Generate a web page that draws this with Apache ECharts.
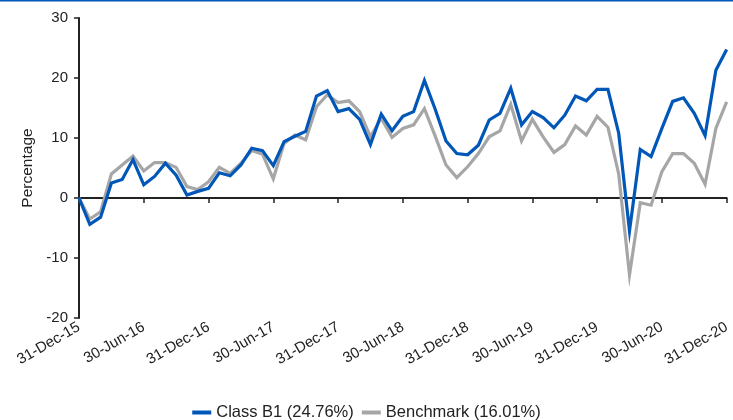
<!DOCTYPE html>
<html>
<head>
<meta charset="utf-8">
<script src="https://cdn.jsdelivr.net/npm/echarts@6/dist/echarts.min.js"></script>
<style>
html,body{margin:0;padding:0;background:#fff;}
#chart{width:733px;height:420px;}
</style>
</head>
<body>
<div id="chart"></div>
<script>
const categories = [
'31-Dec-15',
'31-Jan-16','29-Feb-16','31-Mar-16','30-Apr-16','31-May-16','30-Jun-16','31-Jul-16','31-Aug-16','30-Sep-16','31-Oct-16','30-Nov-16','31-Dec-16',
'31-Jan-17','28-Feb-17','31-Mar-17','30-Apr-17','31-May-17','30-Jun-17','31-Jul-17','31-Aug-17','30-Sep-17','31-Oct-17','30-Nov-17','31-Dec-17',
'31-Jan-18','28-Feb-18','31-Mar-18','30-Apr-18','31-May-18','30-Jun-18','31-Jul-18','31-Aug-18','30-Sep-18','31-Oct-18','30-Nov-18','31-Dec-18',
'31-Jan-19','28-Feb-19','31-Mar-19','30-Apr-19','31-May-19','30-Jun-19','31-Jul-19','31-Aug-19','30-Sep-19','31-Oct-19','30-Nov-19','31-Dec-19',
'31-Jan-20','29-Feb-20','31-Mar-20','30-Apr-20','31-May-20','30-Jun-20','31-Jul-20','31-Aug-20','30-Sep-20','31-Oct-20','30-Nov-20','31-Dec-20'
];
const classB1 = [
0, -4.4, -3.2, 2.5, 3.1, 6.4, 2.2, 3.6, 5.8, 3.8, 0.5, 1.1, 1.6,
4.2, 3.7, 5.5, 8.3, 7.9, 5.4, 9.4, 10.3, 11.1, 17.0, 17.9, 14.4,
14.9, 13.1, 8.9, 14.0, 11.2, 13.6, 14.4, 19.6, 14.8, 9.5, 7.4, 7.2,
8.8, 13.0, 14.1, 18.3, 12.2, 14.4, 13.4, 11.7, 13.8, 17.0, 16.2, 18.1,
18.1, 10.8, -5.5, 8.1, 6.9, 11.6, 16.1, 16.7, 14.1, 10.4, 21.3, 24.76
];
const benchmark = [
0, -3.5, -2.3, 4.0, 5.5, 7.0, 4.5, 5.9, 5.9, 5.1, 1.9, 1.4, 2.7,
5.1, 4.1, 5.8, 7.9, 7.3, 3.2, 9.1, 10.5, 9.7, 15.2, 17.2, 15.9,
16.2, 14.4, 10.2, 13.3, 10.1, 11.6, 12.2, 14.9, 10.3, 5.5, 3.4, 5.2,
7.4, 10.2, 11.2, 15.6, 9.5, 13.1, 10.2, 7.6, 8.9, 12.0, 10.5, 13.6,
11.8, 4.0, -12.8, -0.8, -1.2, 4.4, 7.4, 7.4, 5.8, 2.3, 11.6, 16.01
];
const seriesNames = ['Class B1 (24.76%)', 'Benchmark (16.01%)'];
const yTicks = { min: -20, max: 30, interval: 10 };

const FONT = 'Liberation Sans, Arial, sans-serif';
const chart = echarts.init(document.getElementById('chart'), null, { renderer: 'canvas' });
chart.setOption({
  animation: false,
  backgroundColor: '#ffffff',
  graphic: [{
    type: 'rect', left: 0, top: 0,
    shape: { width: 733, height: 1.5 },
    style: { fill: '#0057B8' }, silent: true
  }],
  grid: { left: 79, right: 4, top: 18, bottom: 102, containLabel: false },
  legend: {
    top: 399, left: 'center',
    icon: 'rect', itemWidth: 19, itemHeight: 4, itemGap: 8,
    textStyle: { fontFamily: FONT, fontSize: 16.5, color: '#222' },
    data: seriesNames
  },
  xAxis: [{
    type: 'category', data: categories, boundaryGap: false,
    axisLine: { onZero: true, lineStyle: { color: '#222', width: 2 } },
    axisTick: { show: true, interval: 5, length: 5, lineStyle: { color: '#222', width: 1.5 } },
    axisLabel: { show: false },
    splitLine: { show: false }
  }, {
    type: 'category', data: categories, boundaryGap: false, position: 'bottom',
    axisLine: { show: false, onZero: false },
    axisTick: { show: false },
    axisLabel: { interval: 5, rotate: 30, margin: 8, fontFamily: FONT, fontSize: 15, color: '#222' },
    splitLine: { show: false }
  }],
  yAxis: {
    type: 'value', min: yTicks.min, max: yTicks.max, interval: yTicks.interval,
    name: 'Percentage', nameLocation: 'middle', nameGap: 43,
    nameTextStyle: { fontFamily: FONT, fontSize: 15.5, color: '#222' },
    axisLine: { show: true, lineStyle: { color: '#222', width: 2 } },
    axisTick: { show: true, length: 5, lineStyle: { color: '#222', width: 1.5 } },
    axisLabel: { margin: 11, fontFamily: FONT, fontSize: 15, color: '#222' },
    splitLine: { show: false }
  },
  series: [{
    name: seriesNames[0], type: 'line', data: classB1, xAxisIndex: 0,
    showSymbol: false, symbol: 'none', z: 3,
    lineStyle: { color: '#0057B8', width: 3.2, join: 'miter' },
    itemStyle: { color: '#0057B8' }
  }, {
    name: seriesNames[1], type: 'line', data: benchmark, xAxisIndex: 0,
    showSymbol: false, symbol: 'none', z: 2,
    lineStyle: { color: '#A6A6A6', width: 3.2, join: 'miter' },
    itemStyle: { color: '#A6A6A6' }
  }]
});
</script>
</body>
</html>
